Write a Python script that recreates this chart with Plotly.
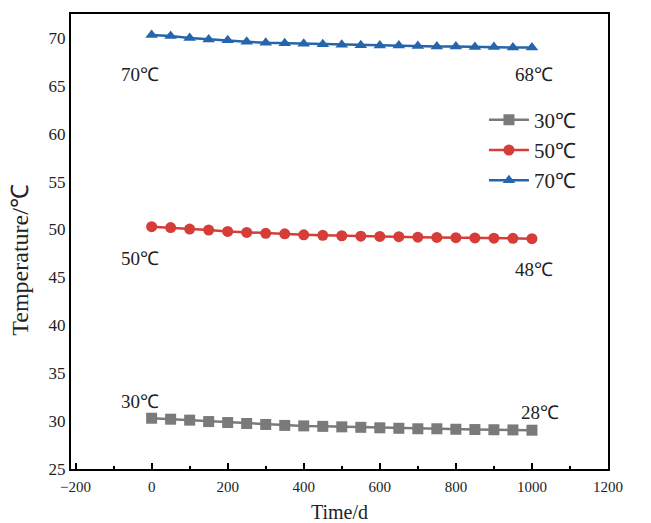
import plotly.graph_objects as go

time_d = [0, 50, 100, 150, 200, 250, 300, 350, 400, 450, 500, 550, 600, 650, 700, 750, 800, 850, 900, 950, 1000]
t30 = [30.3, 30.2, 30.1, 29.95, 29.85, 29.75, 29.65, 29.55, 29.5, 29.45, 29.4, 29.35, 29.3, 29.25, 29.2, 29.2, 29.15, 29.12, 29.1, 29.08, 29.05]
t50 = [50.3, 50.2, 50.05, 49.95, 49.8, 49.7, 49.6, 49.55, 49.45, 49.4, 49.35, 49.3, 49.28, 49.25, 49.2, 49.18, 49.15, 49.12, 49.1, 49.08, 49.05]
t70 = [70.3, 70.2, 70.0, 69.85, 69.75, 69.6, 69.5, 69.45, 69.4, 69.35, 69.3, 69.25, 69.2, 69.2, 69.15, 69.1, 69.1, 69.05, 69.05, 69.0, 69.0]

series_names = ["30℃", "50℃", "70℃"]
colors = ["#7a7a7a", "#d63c38", "#2565ac"]
symbols = ["square", "circle", "triangle-up"]

label_text = ["70℃", "68℃", "50℃", "48℃", "30℃", "28℃"]
label_x = [-30, 1005, -30, 1005, -30, 1020]
label_y = [66.2, 66.2, 47.0, 45.8, 32.0, 30.9]

font_family = "Liberation Serif, Times New Roman, serif"

fig = go.Figure()
for name, ys, c, s in zip(series_names, [t30, t50, t70], colors, symbols):
    fig.add_trace(go.Scatter(
        x=time_d, y=ys, name=name, mode="lines+markers",
        line=dict(color=c, width=2.5),
        marker=dict(symbol=s, size=11, color=c),
    ))

for t, x, y in zip(label_text, label_x, label_y):
    fig.add_annotation(x=x, y=y, text=t, showarrow=False,
                       font=dict(family=font_family, size=19, color="#222"))

# y-axis title placed as a rotated annotation to match the reference's position
fig.add_annotation(xref="paper", yref="paper", x=-0.095, y=0.46, xanchor="center", yanchor="middle",
                   text="Temperature/℃", textangle=-90, showarrow=False,
                   font=dict(family=font_family, size=24, color="#222"))

fig.update_layout(
    width=651, height=523,
    margin=dict(l=71, r=43, t=14, b=54),
    paper_bgcolor="white", plot_bgcolor="white",
    font=dict(family=font_family, size=15, color="#222"),
    showlegend=True,
    legend=dict(x=0.769, y=0.812, xanchor="left", yanchor="top",
                font=dict(family=font_family, size=21, color="#222"),
                bgcolor="rgba(0,0,0,0)", itemwidth=40, tracegroupgap=0),
)
fig.update_xaxes(
    range=[-212, 1200], tick0=0, dtick=200, automargin=False,
    showline=True, linecolor="black", linewidth=2, mirror=True,
    ticks="inside", ticklen=6, tickwidth=2, tickcolor="black",
    minor=dict(ticks="inside", ticklen=3, tickwidth=2, dtick=100, tick0=0, tickcolor="black"),
    showgrid=False, zeroline=False, ticklabelstandoff=3,
    title=dict(text="Time/d", font=dict(family=font_family, size=20), standoff=14),
    tickfont=dict(family=font_family, size=15),
)
fig.update_yaxes(
    range=[25, 72.5], tick0=25, dtick=5, automargin=False,
    showline=True, linecolor="black", linewidth=2, mirror=True,
    ticks="", showgrid=False, zeroline=False,
    tickfont=dict(family=font_family, size=17),
)

fig.write_html("out.html")
